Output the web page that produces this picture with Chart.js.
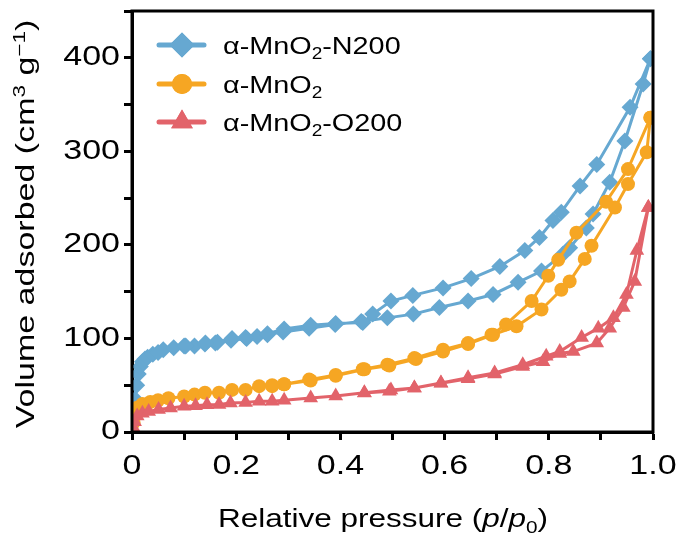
<!DOCTYPE html>
<html>
<head>
<meta charset="utf-8">
<script src="https://cdn.jsdelivr.net/npm/chart.js@4.4.1/dist/chart.umd.min.js"></script>
<style>
  html, body { margin: 0; padding: 0; background: #ffffff; }
  #wrap { width: 684px; height: 541px; position: relative; }
</style>
</head>
<body>
<div id="wrap"><canvas id="iso" width="684" height="541"></canvas></div>
<script>
// N2 sorption isotherms: adsorption branch (rising p/p0) and desorption branch (falling p/p0)
const n200AdsP = [0.003,0.006,0.009,0.012,0.016,0.02,0.025,0.03,0.04,0.05,0.06,0.08,0.1,0.12,0.14,0.16,0.19,0.22,0.24,0.26,0.29,0.34,0.39,0.44,0.49,0.54,0.59,0.645,0.693,0.741,0.786,0.827,0.84,0.872,0.885,0.917,0.946,0.981,0.995];
const n200AdsV = [18,35,50,62,70,75,78,80,83,85,88,90,92,92,94,95,98,100,102,104,107,111,115,118,122,126,133,140,147,160,172,190,197,218,233,267,311,372,399];
const n200DesP = [0.995,0.956,0.892,0.86,0.824,0.808,0.782,0.754,0.706,0.651,0.597,0.539,0.497,0.462,0.443,0.391,0.343,0.292,0.26,0.218,0.192,0.164,0.141,0.103];
const n200DesV = [399,347,286,263,235,226,208,194,177,164,154,146,140,126,117,116,114,110,105,101,100,96,95,92];

const mno2AdsP = [0.003,0.006,0.01,0.02,0.035,0.05,0.07,0.1,0.12,0.14,0.167,0.192,0.218,0.244,0.269,0.292,0.343,0.391,0.446,0.494,0.545,0.597,0.645,0.693,0.738,0.786,0.824,0.84,0.869,0.882,0.927,0.952,0.988,0.995];
const mno2AdsV = [10,20,26,30,32,34,36,38,40,42,42,45,45,49,50,51,55,60,67,71,78,86,94,104,113,131,152,161,185,199,240,265,299,336];
const mno2DesP = [0.995,0.952,0.91,0.853,0.818,0.799,0.767,0.718,0.69,0.645,0.597,0.542,0.49,0.443,0.391,0.34,0.292,0.269];
const mno2DesV = [336,281,246,213,184,167,140,115,104,95,88,79,72,67,61,56,51,49];

const o200AdsP = [0.002,0.005,0.01,0.02,0.032,0.051,0.074,0.1,0.122,0.144,0.167,0.189,0.218,0.244,0.269,0.292,0.343,0.391,0.446,0.497,0.542,0.593,0.645,0.696,0.75,0.789,0.821,0.847,0.892,0.917,0.943,0.965,0.991];
const o200AdsV = [5,11,17,20,22,24,25.7,27.5,28,29,29.5,31,31.5,33,33,34,36.4,38.5,42,45,47,52,57,62,70,75,84,86,95,111,133,161,240];
const o200DesP = [0.991,0.969,0.949,0.924,0.895,0.863,0.821,0.795,0.75,0.696,0.645,0.593,0.542,0.494,0.446];
const o200DesV = [240,194,147,122,111,101,86,81,72,63,58,52.5,47,43.6,41.8];

const seriesNames = ['α-MnO₂-N200', 'α-MnO₂', 'α-MnO₂-O200'];
const xTickLabels = ['0', '0.2', '0.4', '0.6', '0.8', '1.0'];
const yTickLabels = ['0', '100', '200', '300', '400'];

// legend labels with a subscript 2
const legendParts = [
  [{t:'α-MnO'},{t:'2',sub:true},{t:'-N200'}],
  [{t:'α-MnO'},{t:'2',sub:true}],
  [{t:'α-MnO'},{t:'2',sub:true},{t:'-O200'}]
];

const COLORS = ['#66a8d1', '#f6a623', '#e2636a'];
const STYLES = ['rectRot', 'circle', 'triangle'];
const RADII = [8.5, 7, 8.5];
const LEGEND_RADII = [12.5, 10, 12.5];
const FONT = '"Liberation Sans", Arial, Helvetica, sans-serif';
const WIDE = 1.26; // horizontal stretch of the wide sans lettering
const FRAME_COLOR = '#000000';

// linear axis whose tick labels are drawn in the same wide lettering
class WideLinearScale extends Chart.LinearScale {
  drawLabels(chartArea) {
    if (!this.options.ticks.display) return;
    const ctx = this.ctx;
    const items = this.getLabelItems(chartArea);
    for (const item of items) {
      if (!item.label) continue;
      const o = item.options;
      ctx.save();
      ctx.translate(o.translation[0], o.translation[1]);
      if (o.rotation) ctx.rotate(o.rotation);
      ctx.scale(WIDE, 1);
      ctx.font = item.font.string;
      ctx.fillStyle = o.color;
      ctx.textAlign = o.textAlign;
      ctx.textBaseline = o.textBaseline;
      ctx.fillText(item.label, 0, item.textOffset);
      ctx.restore();
    }
  }
}
WideLinearScale.id = 'wideLinear';
WideLinearScale.defaults = Chart.LinearScale.defaults;
Chart.register(WideLinearScale);

function loop(adsP, adsV, desP, desV) {
  const pts = adsP.map((p, i) => ({x: p, y: adsV[i]}));
  desP.forEach((p, i) => pts.push({x: p, y: desV[i]}));
  return pts;
}

const loops = [
  loop(n200AdsP, n200AdsV, n200DesP, n200DesV),
  loop(mno2AdsP, mno2AdsV, mno2DesP, mno2DesV),
  loop(o200AdsP, o200AdsV, o200DesP, o200DesV)
];

// red first, blue on top
const order = [2, 1, 0];
const datasets = order.map(k => ({
  label: seriesNames[k],
  data: loops[k],
  showLine: true,
  borderColor: COLORS[k],
  backgroundColor: COLORS[k],
  borderWidth: 3,
  pointStyle: STYLES[k],
  pointRadius: RADII[k],
  pointBackgroundColor: COLORS[k],
  pointBorderColor: COLORS[k],
  pointBorderWidth: 0,
  tension: 0
}));

// text with sub/superscripts, stretched horizontally
function drawRich(ctx, parts, x, y, size, align, stretch) {
  const small = size * 0.66;
  let w = 0;
  parts.forEach(p => {
    ctx.font = (p.it ? 'italic ' : '') + ((p.sub || p.sup) ? small : size) + 'px ' + FONT;
    p._w = ctx.measureText(p.t).width;
    w += p._w;
  });
  ctx.save();
  ctx.translate(x, y);
  ctx.scale(stretch, 1);
  let cx = align === 'center' ? -w / 2 : 0;
  ctx.textBaseline = 'alphabetic';
  ctx.textAlign = 'left';
  parts.forEach(p => {
    ctx.font = (p.it ? 'italic ' : '') + ((p.sub || p.sup) ? small : size) + 'px ' + FONT;
    let dy = 0;
    if (p.sub) dy = size * 0.22;
    if (p.sup) dy = -size * 0.38;
    ctx.fillText(p.t, cx, dy);
    cx += p._w;
  });
  ctx.restore();
}

const decor = {
  id: 'decor',
  afterDraw(chart) {
    const ctx = chart.ctx;
    const a = chart.chartArea;
    ctx.save();
    // legend
    const rows = [45, 84, 122];
    [0, 1, 2].forEach(k => {
      const y = rows[k];
      ctx.strokeStyle = COLORS[k];
      ctx.lineWidth = 5;
      ctx.lineCap = 'round';
      ctx.beginPath();
      ctx.moveTo(159, y);
      ctx.lineTo(204, y);
      ctx.stroke();
      ctx.fillStyle = COLORS[k];
      Chart.helpers.drawPoint(ctx, {pointStyle: STYLES[k], radius: LEGEND_RADII[k], borderWidth: 0}, 182, y);
      ctx.fill();
      ctx.fillStyle = '#000000';
      drawRich(ctx, legendParts[k], 223, y + 9, 24, 'left', 1.2);
    });
    // axis titles
    ctx.fillStyle = '#000000';
    drawRich(ctx, [{t:'Relative pressure ('},{t:'p',it:true},{t:'/'},{t:'p',it:true},{t:'0',sub:true},{t:')'}],
      383, 527, 25, 'center', WIDE);
    ctx.save();
    ctx.translate(34, 224);
    ctx.rotate(-Math.PI / 2);
    drawRich(ctx, [{t:'Volume adsorbed (cm'},{t:'3',sup:true},{t:' g'},{t:'−1',sup:true},{t:')'}], 0, 0, 25, 'center', 1.36);
    ctx.restore();
    // frame around the plot, drawn last
    ctx.lineCap = 'butt';
    ctx.lineJoin = 'miter';
    ctx.strokeStyle = FRAME_COLOR;
    ctx.lineWidth = 3;
    ctx.beginPath();
    ctx.rect(a.left, a.top, a.right - a.left, a.bottom - a.top);
    ctx.stroke();
    ctx.restore();
  }
};

const tickMarks = { display: true, drawOnChartArea: false, drawTicks: true, tickLength: 8, tickWidth: 3, tickColor: '#000000' };

new Chart(document.getElementById('iso'), {
  type: 'scatter',
  data: { datasets },
  options: {
    responsive: false,
    animation: false,
    devicePixelRatio: 1,
    layout: { padding: { left: 0, right: 31, top: 11, bottom: 0 } },
    plugins: { legend: { display: false }, tooltip: { enabled: false } },
    scales: {
      x: {
        type: 'wideLinear', position: 'bottom', min: 0, max: 1,
        afterFit(s) { s.height = 109; s.paddingLeft = 0; s.paddingRight = 0; },
        border: { display: true, color: '#000000', width: 3 },
        grid: tickMarks,
        ticks: {
          stepSize: 0.1, color: '#000', padding: 10,
          font: { family: FONT, size: 27 },
          maxRotation: 0, autoSkip: false,
          callback(v) {
            const k = Math.round(v * 10);
            return k % 2 === 0 ? xTickLabels[k / 2] : '';
          }
        }
      },
      y: {
        type: 'wideLinear', position: 'left', min: 0, max: 450,
        afterFit(s) { s.width = 132; s.paddingTop = 0; s.paddingBottom = 0; },
        border: { display: true, color: '#000000', width: 3 },
        grid: tickMarks,
        ticks: {
          stepSize: 50, color: '#000', padding: 4,
          font: { family: FONT, size: 27 },
          autoSkip: false,
          callback(v) {
            const k = Math.round(v / 50);
            return k % 2 === 0 && k / 2 < yTickLabels.length ? yTickLabels[k / 2] : '';
          }
        }
      }
    }
  },
  plugins: [decor]
});
</script>
</body>
</html>
